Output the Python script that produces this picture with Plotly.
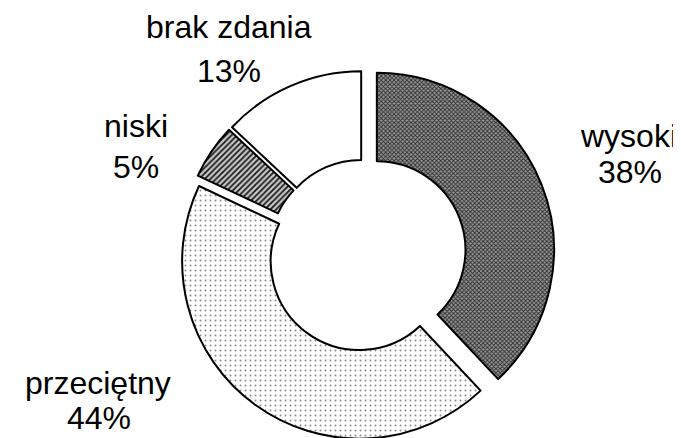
import plotly.graph_objects as go

# ---- data ----
labels = ["wysoki", "przeciętny", "niski", "brak zdania"]
values = [38, 44, 5, 13]

# ---- styles ----
pulls = [0.078, 0.045, 0.04, 0.04]
bg_colors = ["#9a9a9a", "#ffffff", "#c8c8c8", "#ffffff"]
pat_shapes = ["x", ".", "/", ""]
pat_fg = ["#2a2a2a", "#8a8a8a", "#1a1a1a", "#000000"]
pat_size = [3, 5, 4, 4]
pat_solid = [0.5, 0.12, 0.45, 0.3]

# label anchor positions in pixels (center x, center y) for name line and percent line
label_pos = {
    "wysoki": ((620, 128), (622, 164)),
    "przeciętny": ((90, 375), (91, 410)),
    "niski": ((128, 118), (128, 159)),
    "brak zdania": ((221, 19), (221, 63)),
}

W, H = 681, 438
FONT = "Liberation Sans, Arial, sans-serif"

fig = go.Figure(
    go.Pie(
        labels=labels,
        values=values,
        sort=False,
        direction="clockwise",
        rotation=0,
        hole=0.5,
        pull=pulls,
        textinfo="none",
        hoverinfo="skip",
        showlegend=False,
        marker=dict(
            colors=bg_colors,
            line=dict(color="black", width=2),
            pattern=dict(
                shape=pat_shapes,
                fgcolor=pat_fg,
                bgcolor=bg_colors,
                size=pat_size,
                solidity=pat_solid,
            ),
        ),
        domain=dict(x=[106 / W, 606 / W], y=[0, 382 / H]),
    )
)

annotations = []
for lab, val in zip(labels, values):
    (x1, y1), (x2, y2) = label_pos[lab]
    for txt, (px, py) in ((lab, (x1, y1)), (f"{val}%", (x2, y2))):
        annotations.append(
            dict(
                text=txt,
                x=px / W,
                y=1 - py / H,
                xref="paper",
                yref="paper",
                xanchor="center",
                yanchor="middle",
                showarrow=False,
                borderpad=0,
                font=dict(family=FONT, size=32, color="black"),
            )
        )

fig.update_layout(
    width=W,
    height=H,
    margin=dict(l=0, r=0, t=0, b=0),
    paper_bgcolor="white",
    plot_bgcolor="white",
    annotations=annotations,
    showlegend=False,
)

fig.write_html("out.html")
